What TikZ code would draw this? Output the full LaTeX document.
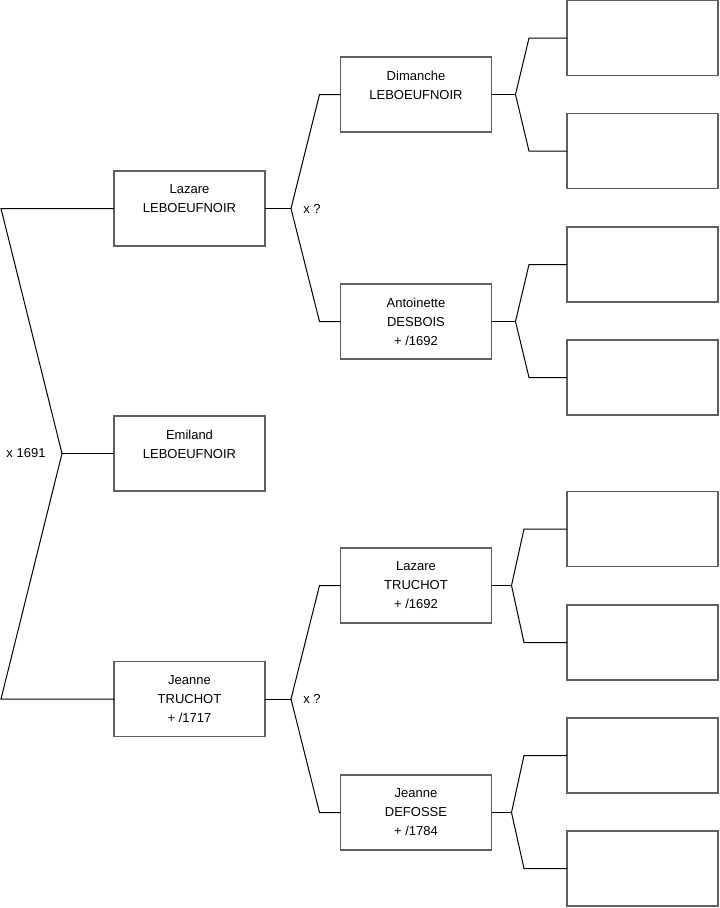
\documentclass[tikz,border=0pt]{standalone}
\usepackage{fontspec}
\setmainfont{Liberation Sans}
\usepackage{tikz}
\usetikzlibrary{calc}

\begin{document}
\begin{tikzpicture}[x=0.75pt, y=-0.75pt, line width=0.75pt,
  person/.style={draw={rgb,255:red,95;green,95;blue,95}, line width=1pt, fill=white,
    minimum width=113.25pt, minimum height=56.25pt, inner sep=0pt, outer sep=0pt,
    align=center, font=\fontsize{9.75}{14.25}\selectfont},
  union/.style={font=\fontsize{9.75}{12}\selectfont, inner sep=0pt}]
\useasboundingbox (0,0) rectangle (719,908);

% generation 1
\node[person] (emiland) at (189.5,453.5) {Emiland\\LEBOEUFNOIR\\\mbox{}};
% generation 2
\node[person] (lazareL) at (189.5,208.5) {Lazare\\LEBOEUFNOIR\\\mbox{}};
\node[person] (jeanneT) at (189.5,699) {Jeanne\\TRUCHOT\\+ /1717};
% generation 3
\node[person] (dimanche) at (416,94.5) {Dimanche\\LEBOEUFNOIR\\\mbox{}};
\node[person] (antoinette) at (416,321.5) {Antoinette\\DESBOIS\\+ /1692};
\node[person] (lazareT) at (416,585.5) {Lazare\\TRUCHOT\\+ /1692};
\node[person] (jeanneD) at (416,812.5) {Jeanne\\DEFOSSE\\+ /1784};
% generation 4
\node[person] (r1) at (642.5,38) {};
\node[person] (r2) at (642.5,151) {};
\node[person] (r3) at (642.5,264.5) {};
\node[person] (r4) at (642.5,377.5) {};
\node[person] (r5) at (642.5,529) {};
\node[person] (r6) at (642.5,642.5) {};
\node[person] (r7) at (642.5,755.5) {};
\node[person] (r8) at (642.5,868.5) {};

% parents of Emiland
\coordinate (k0) at (62,453.5);
\draw (emiland.west) -- (k0);
\draw (lazareL.west) -- ++(-113,0) -- (k0) -- ($(jeanneT.west)+(-113,0)$) -- (jeanneT.west);
\node[union] (m0) at (26,453.5) {x 1691};

% parents of Lazare
\draw (lazareL.east) -- ++(26,0) coordinate (k1);
\draw (dimanche.west) -- ++(-21,0) -- (k1) -- ($(antoinette.west)+(-21,0)$) -- (antoinette.west);
\node[union] (m1) at (312,208.5) {x ?};

% parents of Jeanne
\draw (jeanneT.east) -- ++(26,0) coordinate (k2);
\draw (lazareT.west) -- ++(-21,0) -- (k2) -- ($(jeanneD.west)+(-21,0)$) -- (jeanneD.west);
\node[union] (m2) at (312,699) {x ?};

% generation 4 brackets
\draw (dimanche.east) -- ++(24,0) coordinate (k3);
\draw (r1.west) -- ++(-38,0) -- (k3) -- ($(r2.west)+(-38,0)$) -- (r2.west);
\draw (antoinette.east) -- ++(24,0) coordinate (k4);
\draw (r3.west) -- ++(-38,0) -- (k4) -- ($(r4.west)+(-38,0)$) -- (r4.west);
\draw (lazareT.east) -- ++(20,0) coordinate (k5);
\draw (r5.west) -- ++(-43,0) -- (k5) -- ($(r6.west)+(-43,0)$) -- (r6.west);
\draw (jeanneD.east) -- ++(20,0) coordinate (k6);
\draw (r7.west) -- ++(-43,0) -- (k6) -- ($(r8.west)+(-43,0)$) -- (r8.west);
\end{tikzpicture}
\end{document}
